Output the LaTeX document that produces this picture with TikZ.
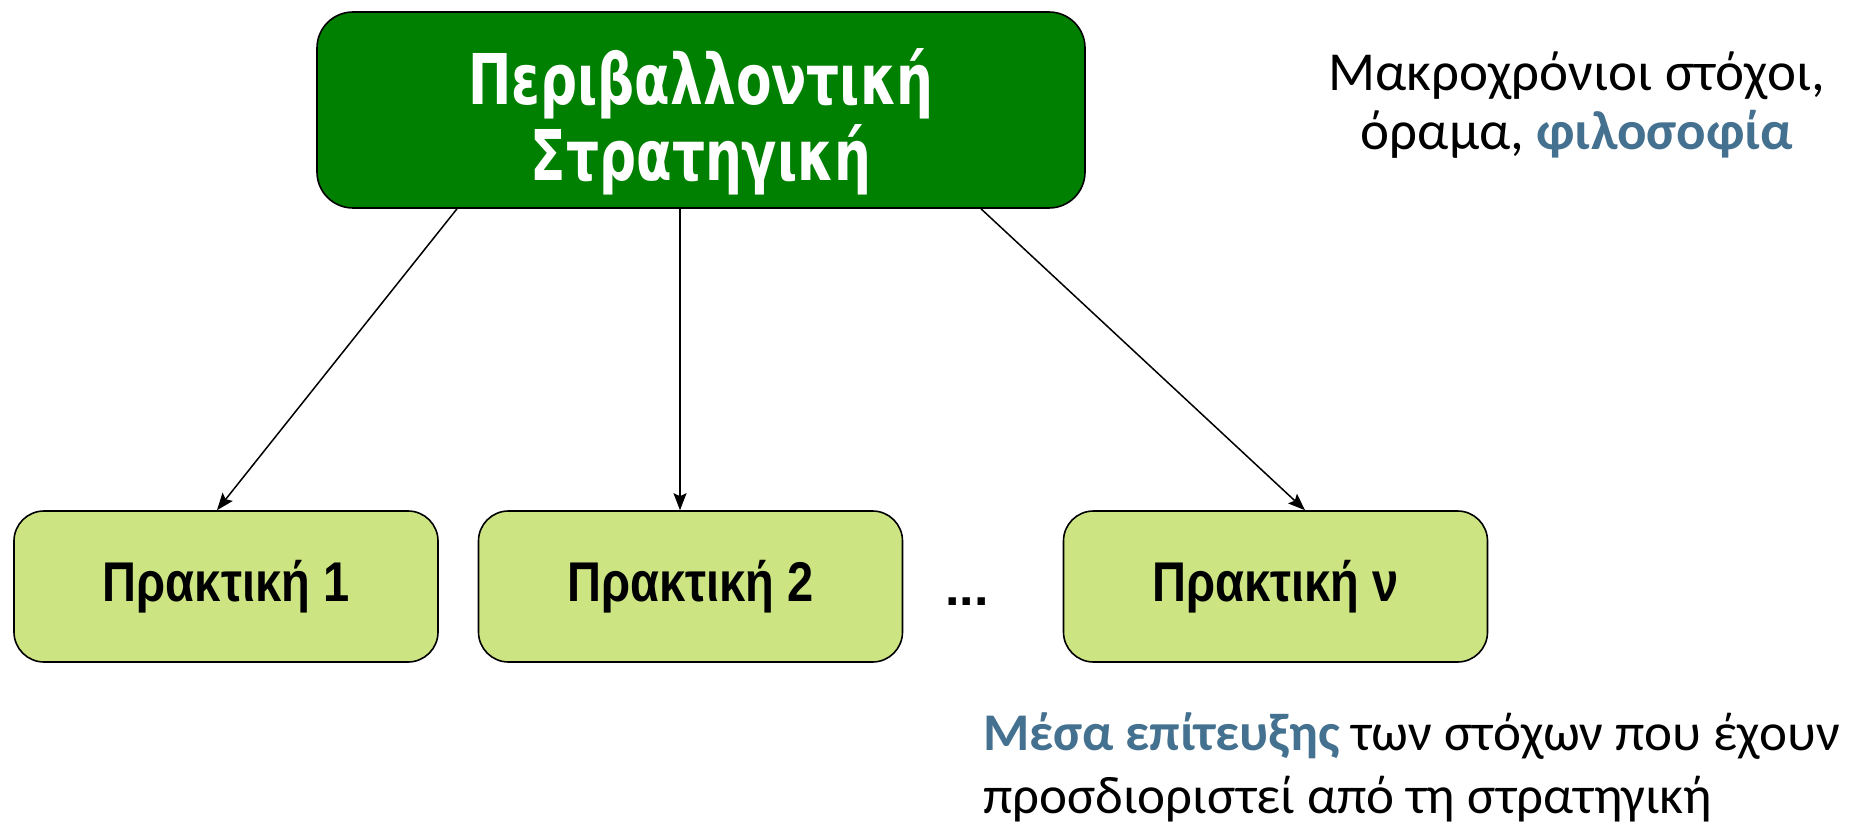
\documentclass[tikz,border=0pt]{standalone}
\usepackage{fontspec}
\setmainfont{Carlito}
\newfontfamily\topfont[FakeStretch=0.74]{DejaVu Sans}
\newfontfamily\boxfont[FakeStretch=0.84]{Liberation Sans}
\newfontfamily\dotfont{Liberation Sans}
\usetikzlibrary{arrows.meta,calc}
\definecolor{topgreen}{HTML}{008000}
\definecolor{lightgreen}{HTML}{CDE483}
\definecolor{bluetext}{HTML}{44718F}
\tikzset{
  topbox/.style={draw=black, line width=1.6pt, fill=topgreen, rounded corners=36pt,
    minimum width=768pt, minimum height=196pt, text=white, align=center, inner sep=0pt,
    font=\topfont\bfseries\fontsize{70}{76}\selectfont},
  practbox/.style={draw=black, line width=1.6pt, fill=lightgreen, rounded corners=30pt,
    minimum width=424pt, minimum height=151pt, inner sep=0pt,
    font=\boxfont\bfseries\fontsize{56}{60}\selectfont},
  conn/.style={line width=1.5pt, -{Stealth[length=17pt,width=13pt,inset=3pt]}},
  note/.style={font=\fontsize{55}{59}\selectfont, inner sep=0pt}
}
\begin{document}
\begin{tikzpicture}[x=1pt,y=-1pt]
\useasboundingbox (0,0) rectangle (1853,826);
\node[topbox] (top) at (701,110) {\rule{0pt}{80pt}Περιβαλλοντική\\Στρατηγική};
\node[practbox] (p1) at (226,586.5) {Πρακτική 1};
\node[practbox] (p2) at (690.5,586.5) {Πρακτική 2};
\node[practbox] (pn) at (1275.5,586.5) {Πρακτική ν};
\node[font=\dotfont\bfseries\fontsize{52}{60}\selectfont, anchor=base, inner sep=0pt] (dots) at (967,605) {...};
\draw[conn] ([xshift=-244pt]top.south) -- ([xshift=-9pt]p1.north);
\draw[conn] ([xshift=-21pt]top.south) -- ([xshift=-10.5pt]p2.north);
\draw[conn] ([xshift=280pt]top.south) -- ([xshift=29.5pt]pn.north);
\node[note, align=center, anchor=base] (goals) at (1577,150) {Μακροχρόνιοι στόχοι,\\όραμα, \textcolor{bluetext}{\bfseries φιλοσοφία}};
\node[note, font=\fontsize{53}{63}\selectfont, align=left, anchor=base west] (means) at (983,813) {\textcolor{bluetext}{\bfseries Μέσα επίτευξης} των στόχων που έχουν\\προσδιοριστεί από τη στρατηγική};
\end{tikzpicture}
\end{document}
